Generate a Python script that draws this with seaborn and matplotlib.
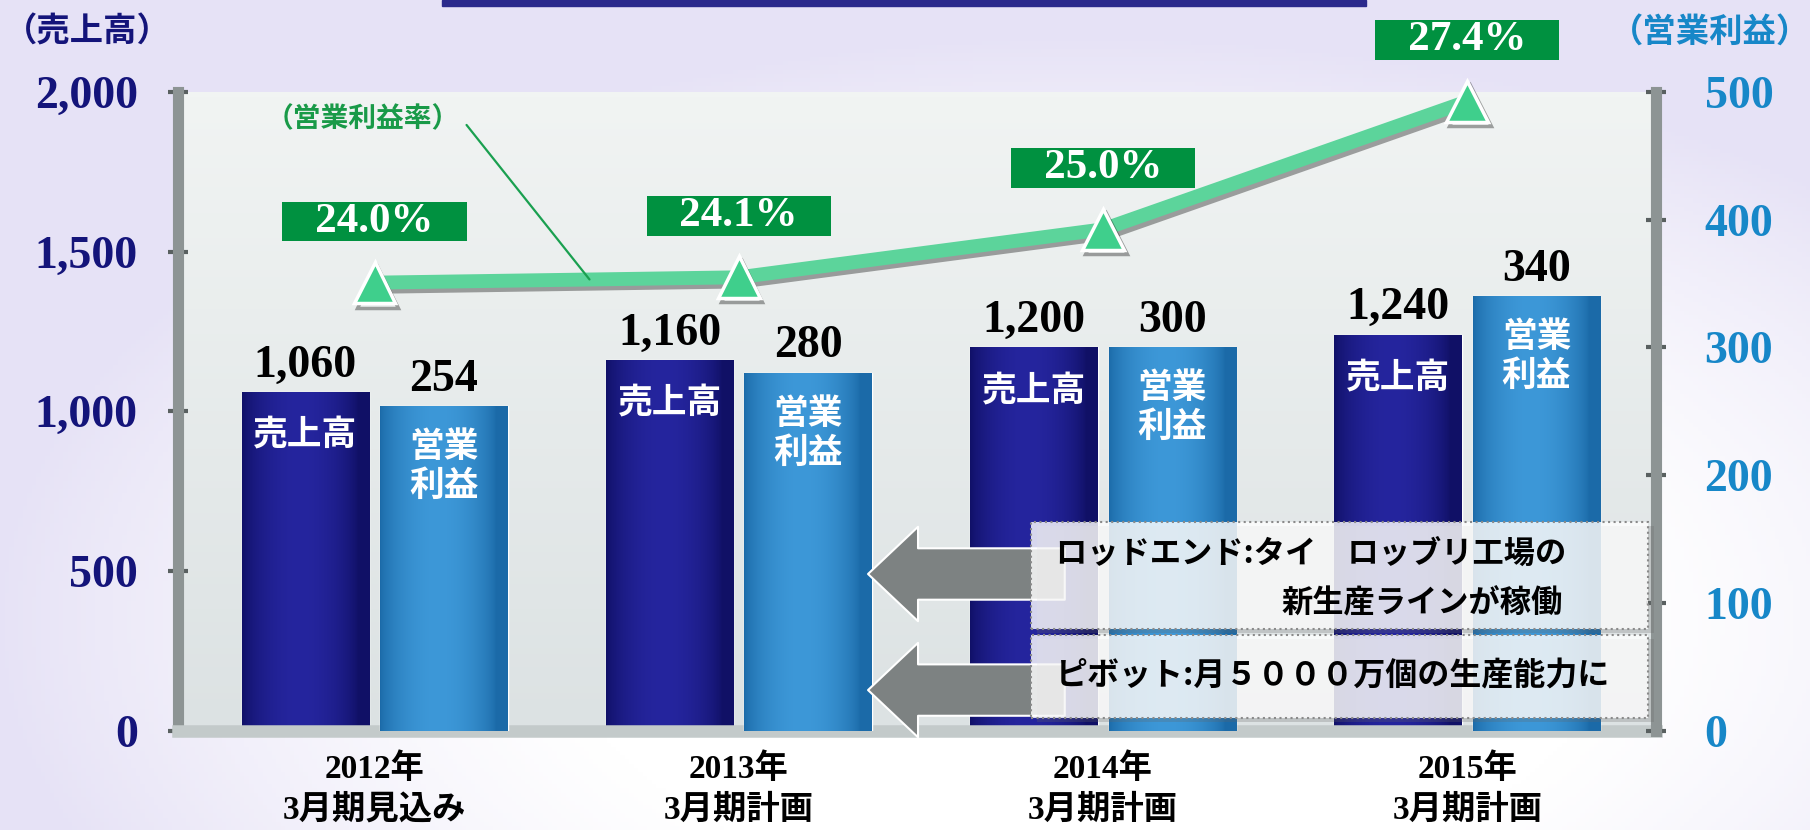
import numpy as np
import pandas as pd
import matplotlib
matplotlib.use("Agg")
import matplotlib.pyplot as plt
import matplotlib.patheffects as pe
from matplotlib.patches import Rectangle
from matplotlib.colors import to_rgb
import seaborn as sns

sns.set_style("white")
plt.rcParams['font.family'] = ['Noto Sans CJK JP', 'DejaVu Sans']
SERIF = ['Liberation Serif', 'Noto Sans CJK JP']

# data
categories = ["2012年\n3月期見込み", "2013年\n3月期計画", "2014年\n3月期計画", "2015年\n3月期計画"]
sales = [1060, 1160, 1200, 1240]        # 売上高 (left axis)
profit = [254, 280, 300, 340]           # 営業利益 (right axis)
margin = [24.0, 24.1, 25.0, 27.4]       # 営業利益率 (%)
sales_ticks = [0, 500, 1000, 1500, 2000]
profit_ticks = [0, 100, 200, 300, 400, 500]

pos = np.arange(len(categories))
df = pd.DataFrame({"pos": pos, "sales": sales, "profit": profit, "margin": margin})

fig = plt.figure(figsize=(18.1, 8.3), dpi=100)
fig.patch.set_facecolor("#f3f1fa")

# soft lavender background
bg = fig.add_axes([0, 0, 1, 1], zorder=-5)
bg.axis("off")
yy, xx = np.mgrid[0:1:200j, 0:1:400j]
w = np.clip(1.3 - ((xx - 0.6) ** 2 * 2.2 + (yy - 0.75) ** 2 * 1.6) * 1.6, 0, 1)[..., None]
bg.imshow(np.array(to_rgb("#e6e2f6")) * (1 - w) + np.ones(3) * w, extent=[0, 1, 0, 1], aspect="auto")

ax = fig.add_axes([0.0983, 0.1193, 0.8166, 0.7701])
vert = np.linspace(0, 1, 100)[:, None, None]
panel = np.array(to_rgb("#f1f4f3")) * (1 - vert) + np.array(to_rgb("#dce2e3")) * vert
ax.imshow(panel, extent=[0, 1, 0, 1], transform=ax.transAxes, aspect="auto", zorder=0)

sns.barplot(x=df.pos - 0.19, y=df.sales, native_scale=True, orient="x", width=0.35,
            color="#1c1c86", saturation=1, errorbar=None, ax=ax)
ax2 = ax.twinx()
sns.barplot(x=df.pos + 0.19, y=df.profit, native_scale=True, orient="x", width=0.35,
            color="#2a86c6", saturation=1, errorbar=None, ax=ax2)
ax3 = ax.twinx()
sns.lineplot(x=df.pos, y=df.margin, ax=ax3, color="#5cd49b", lw=10, marker="^",
             markersize=30, markerfacecolor="#3fcf8c", markeredgecolor="white",
             markeredgewidth=2.5, clip_on=False,
             path_effects=[pe.SimpleLineShadow(offset=(2, -3), alpha=0.35), pe.Normal()])


def shade(axis, edge, mid):
    e, m = np.array(to_rgb(edge)), np.array(to_rgb(mid))
    t = np.linspace(0, 1, 200)
    prof = np.sin(np.pi * np.clip(t * 1.1, 0, 1)) ** 0.7
    grad = (e + (m - e) * prof[:, None])[None, :, :]
    for p in list(axis.patches):
        if not isinstance(p, Rectangle):
            continue
        x, wd, h = p.get_x(), p.get_width(), p.get_height()
        im = axis.imshow(grad, extent=[x, x + wd, 0, h], aspect="auto", zorder=1.5,
                         interpolation="bilinear")
        im.set_clip_path(p)


shade(ax, "#101066", "#25259e")
shade(ax2, "#1b6aa8", "#3d98d8")

for a in (ax, ax2, ax3):
    a.set_xlim(-0.54, 3.518)
    a.set_xlabel("")
    a.set_ylabel("")
    a.grid(False)
ax.set_ylim(0, 2000)
ax2.set_ylim(0, 500)
ax3.set_ylim(15.59, 27.58)

# left axis
ax.set_yticks(sales_ticks)
ax.set_yticklabels([f"{v:,}" for v in sales_ticks], fontfamily=SERIF, fontweight="bold")
ax.tick_params(axis="y", direction="inout", length=14, width=3, color="#596060",
               labelsize=33, labelcolor="#14147a", pad=22, left=True)
ax.set_xticks(pos)
ax.set_xticklabels(categories, fontfamily=SERIF, fontweight="bold", fontsize=24,
                   color="black", linespacing=1.4)
ax.tick_params(axis="x", length=0, pad=16)
for s in ("top", "right"):
    ax.spines[s].set_visible(False)
ax.spines["left"].set_linewidth(8)
ax.spines["left"].set_color("#8d9494")
ax.spines["bottom"].set_linewidth(9)
ax.spines["bottom"].set_color("#c3caca")

# right axis
ax2.set_yticks(profit_ticks)
ax2.set_yticklabels([str(v) for v in profit_ticks], fontfamily=SERIF, fontweight="bold")
ax2.tick_params(axis="y", direction="inout", length=14, width=3, color="#596060",
                labelsize=33, labelcolor="#1787c8", pad=28, right=True)
for s in ("top", "left", "bottom"):
    ax2.spines[s].set_visible(False)
ax2.spines["right"].set_linewidth(8)
ax2.spines["right"].set_color("#8d9494")

ax3.set_yticks([])
for s in ax3.spines.values():
    s.set_visible(False)

# value labels
ax.bar_label(ax.containers[0], labels=[f"{v:,}" for v in sales], padding=4, fontsize=33,
             fontweight="bold", fontfamily=SERIF, color="black")
ax2.bar_label(ax2.containers[0], labels=[str(v) for v in profit], padding=4, fontsize=33,
              fontweight="bold", fontfamily=SERIF, color="black")
for p in ax.containers[0]:
    ax.annotate("売上高", (p.get_x() + p.get_width() / 2, p.get_height()), xytext=(0, -31),
                textcoords="offset points", ha="center", va="center", color="white",
                fontsize=25, fontweight="bold", zorder=5)
for p in ax2.containers[0]:
    ax2.annotate("営業\n利益", (p.get_x() + p.get_width() / 2, p.get_height()), xytext=(0, -43),
                 textcoords="offset points", ha="center", va="center", color="white",
                 fontsize=25, fontweight="bold", linespacing=1.15, zorder=5)

# margin labels
for x, m in zip(pos, margin):
    ax3.annotate(f"   {m:.1f}%   ", (x, m), xytext=(0, 44), textcoords="offset points",
                 ha="center", va="center", color="white", fontsize=31, fontweight="bold",
                 fontfamily=SERIF, annotation_clip=False,
                 bbox=dict(boxstyle="square,pad=0.02", fc="#009140", ec="none"))
ax3.annotate("（営業利益率）", xy=(0.59, 24.06), xytext=(0.125, 0.957),
             textcoords="axes fraction", ha="center", va="center", color="#199a48",
             fontsize=20, fontweight="bold",
             arrowprops=dict(arrowstyle="-", color="#1aa050", lw=1.6, relpos=(1.0, 0.6),
                             shrinkA=4, shrinkB=0))

# call-out arrows and boxes
for y in (0.2456, 0.064):
    ax3.annotate("", xy=(0.4669, y), xytext=(0.60, y), xycoords="axes fraction",
                 textcoords="axes fraction", annotation_clip=False, zorder=3,
                 arrowprops=dict(arrowstyle="simple,head_length=36,head_width=68,tail_width=37",
                                 mutation_scale=1, fc="#7d8282", ec="white", lw=1.5,
                                 shrinkA=0, shrinkB=0))
for y0, h in ((0.160, 0.167), (0.0203, 0.1297)):
    ax3.add_patch(Rectangle((0.581, y0 - 0.006), 0.4176, h, transform=ax3.transAxes,
                            fc=(0.4, 0.4, 0.4, 0.25), ec="none", zorder=3.5))
    ax3.add_patch(Rectangle((0.577, y0), 0.4176, h, transform=ax3.transAxes,
                            fc=(1, 1, 1, 0.82), ec="#8a8a8a", lw=1.5, ls=":", zorder=4))
ax3.text(0.594, 0.277, "ロッドエンド:タイ　ロッブリ工場の", transform=ax3.transAxes,
         ha="left", va="center", fontsize=22.5, fontweight="bold", color="black", zorder=5)
ax3.text(0.937, 0.199, "新生産ラインが稼働", transform=ax3.transAxes,
         ha="right", va="center", fontsize=22.5, fontweight="bold", color="black", zorder=5)
ax3.text(0.594, 0.086, "ピボット:月５０００万個の生産能力に", transform=ax3.transAxes,
         ha="left", va="center", fontsize=23, fontweight="bold", color="black", zorder=5)

# axis titles and top bar
fig.text(0.002, 1 - 32 / 830, "（売上高）", ha="left", va="center", color="#14147a",
         fontsize=24, fontweight="bold")
fig.text(1.0, 1 - 32 / 830, "（営業利益）", ha="right", va="center", color="#1787c8",
         fontsize=24, fontweight="bold")
fig.add_artist(Rectangle((442 / 1810, 1 - 6 / 830), (1366 - 442) / 1810, 6 / 830,
                         transform=fig.transFigure, color="#2b2a8c"))

fig.savefig("out.png", dpi=100, facecolor=fig.get_facecolor())
